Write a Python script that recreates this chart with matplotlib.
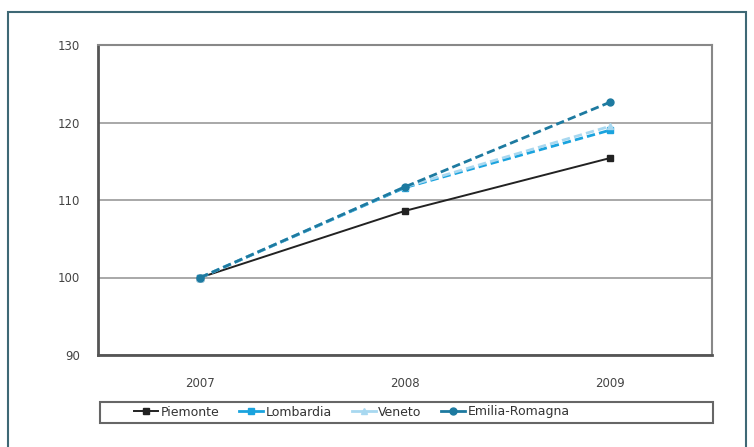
import numpy as np
import matplotlib.pyplot as plt
from matplotlib.patches import Rectangle

years = ['2007', '2008', '2009']
piemonte = [100, 108.6, 115.4]
lombardia = [100, 111.6, 119.0]
veneto = [100, 111.7, 119.5]
emilia = [100, 111.7, 122.6]

W, H = 754, 447
fig = plt.figure(figsize=(W / 100, H / 100), dpi=100)
fig.patch.set_facecolor('white')

# outer frame
fig.patches.append(Rectangle((8 / W, -0.01), 738 / W, 1 - 12 / H + 0.01,
                             transform=fig.transFigure, fill=False,
                             edgecolor='#3e6875', linewidth=1.5))
# legend frame
fig.patches.append(Rectangle((100 / W, 1 - 423 / H), 613 / W, 21 / H,
                             transform=fig.transFigure, fill=False,
                             edgecolor='#666666', linewidth=1.5))

ax = fig.add_axes([98 / W, 1 - 355 / H, 614 / W, 310 / H])
x = np.arange(len(years))

ax.plot(x, piemonte, color='#222222', lw=1.4, marker='s', ms=4.5, label='Piemonte', zorder=3)
ax.plot(x, lombardia, color='#1aa3de', lw=2, ls=(0, (3, 1.5)), marker='s', ms=5, label='Lombardia', zorder=4)
ax.plot(x, veneto, color='#a8d8f0', lw=2, ls=(0, (3, 1.5)), marker='^', ms=5, label='Veneto', zorder=4)
ax.plot(x, emilia, color='#1d7aa0', lw=2, ls=(0, (3, 1.5)), marker='o', ms=5, label='Emilia-Romagna', zorder=5)

ax.set_xlim(-0.5, 2.5)
ax.set_ylim(90, 130)
ax.set_yticks([90, 100, 110, 120, 130])
ax.set_xticks(x)
ax.set_xticklabels(years)
ax.yaxis.grid(True, color='#999999', lw=1.2)
ax.set_axisbelow(True)
ax.tick_params(axis='both', length=0, labelsize=8.5, colors='#444444')
ax.tick_params(axis='y', pad=13)
ax.tick_params(axis='x', pad=16)
for s in ['top', 'right']:
    ax.spines[s].set_color('#888888')
    ax.spines[s].set_linewidth(1.5)
for s in ['left', 'bottom']:
    ax.spines[s].set_color('#555555')
    ax.spines[s].set_linewidth(2)

handles, labels = ax.get_legend_handles_labels()
leg = fig.legend(handles, labels, loc='center left', bbox_to_anchor=(128 / W, 1 - 412 / H),
                 ncol=4, fontsize=9, frameon=False, handlelength=1.9,
                 handletextpad=0.2, columnspacing=1.6, borderpad=0)
for t in leg.get_texts():
    t.set_color('#333333')
for lh in leg.get_lines():
    lh.set_linestyle('-')

fig.savefig('out.png', dpi=100)
